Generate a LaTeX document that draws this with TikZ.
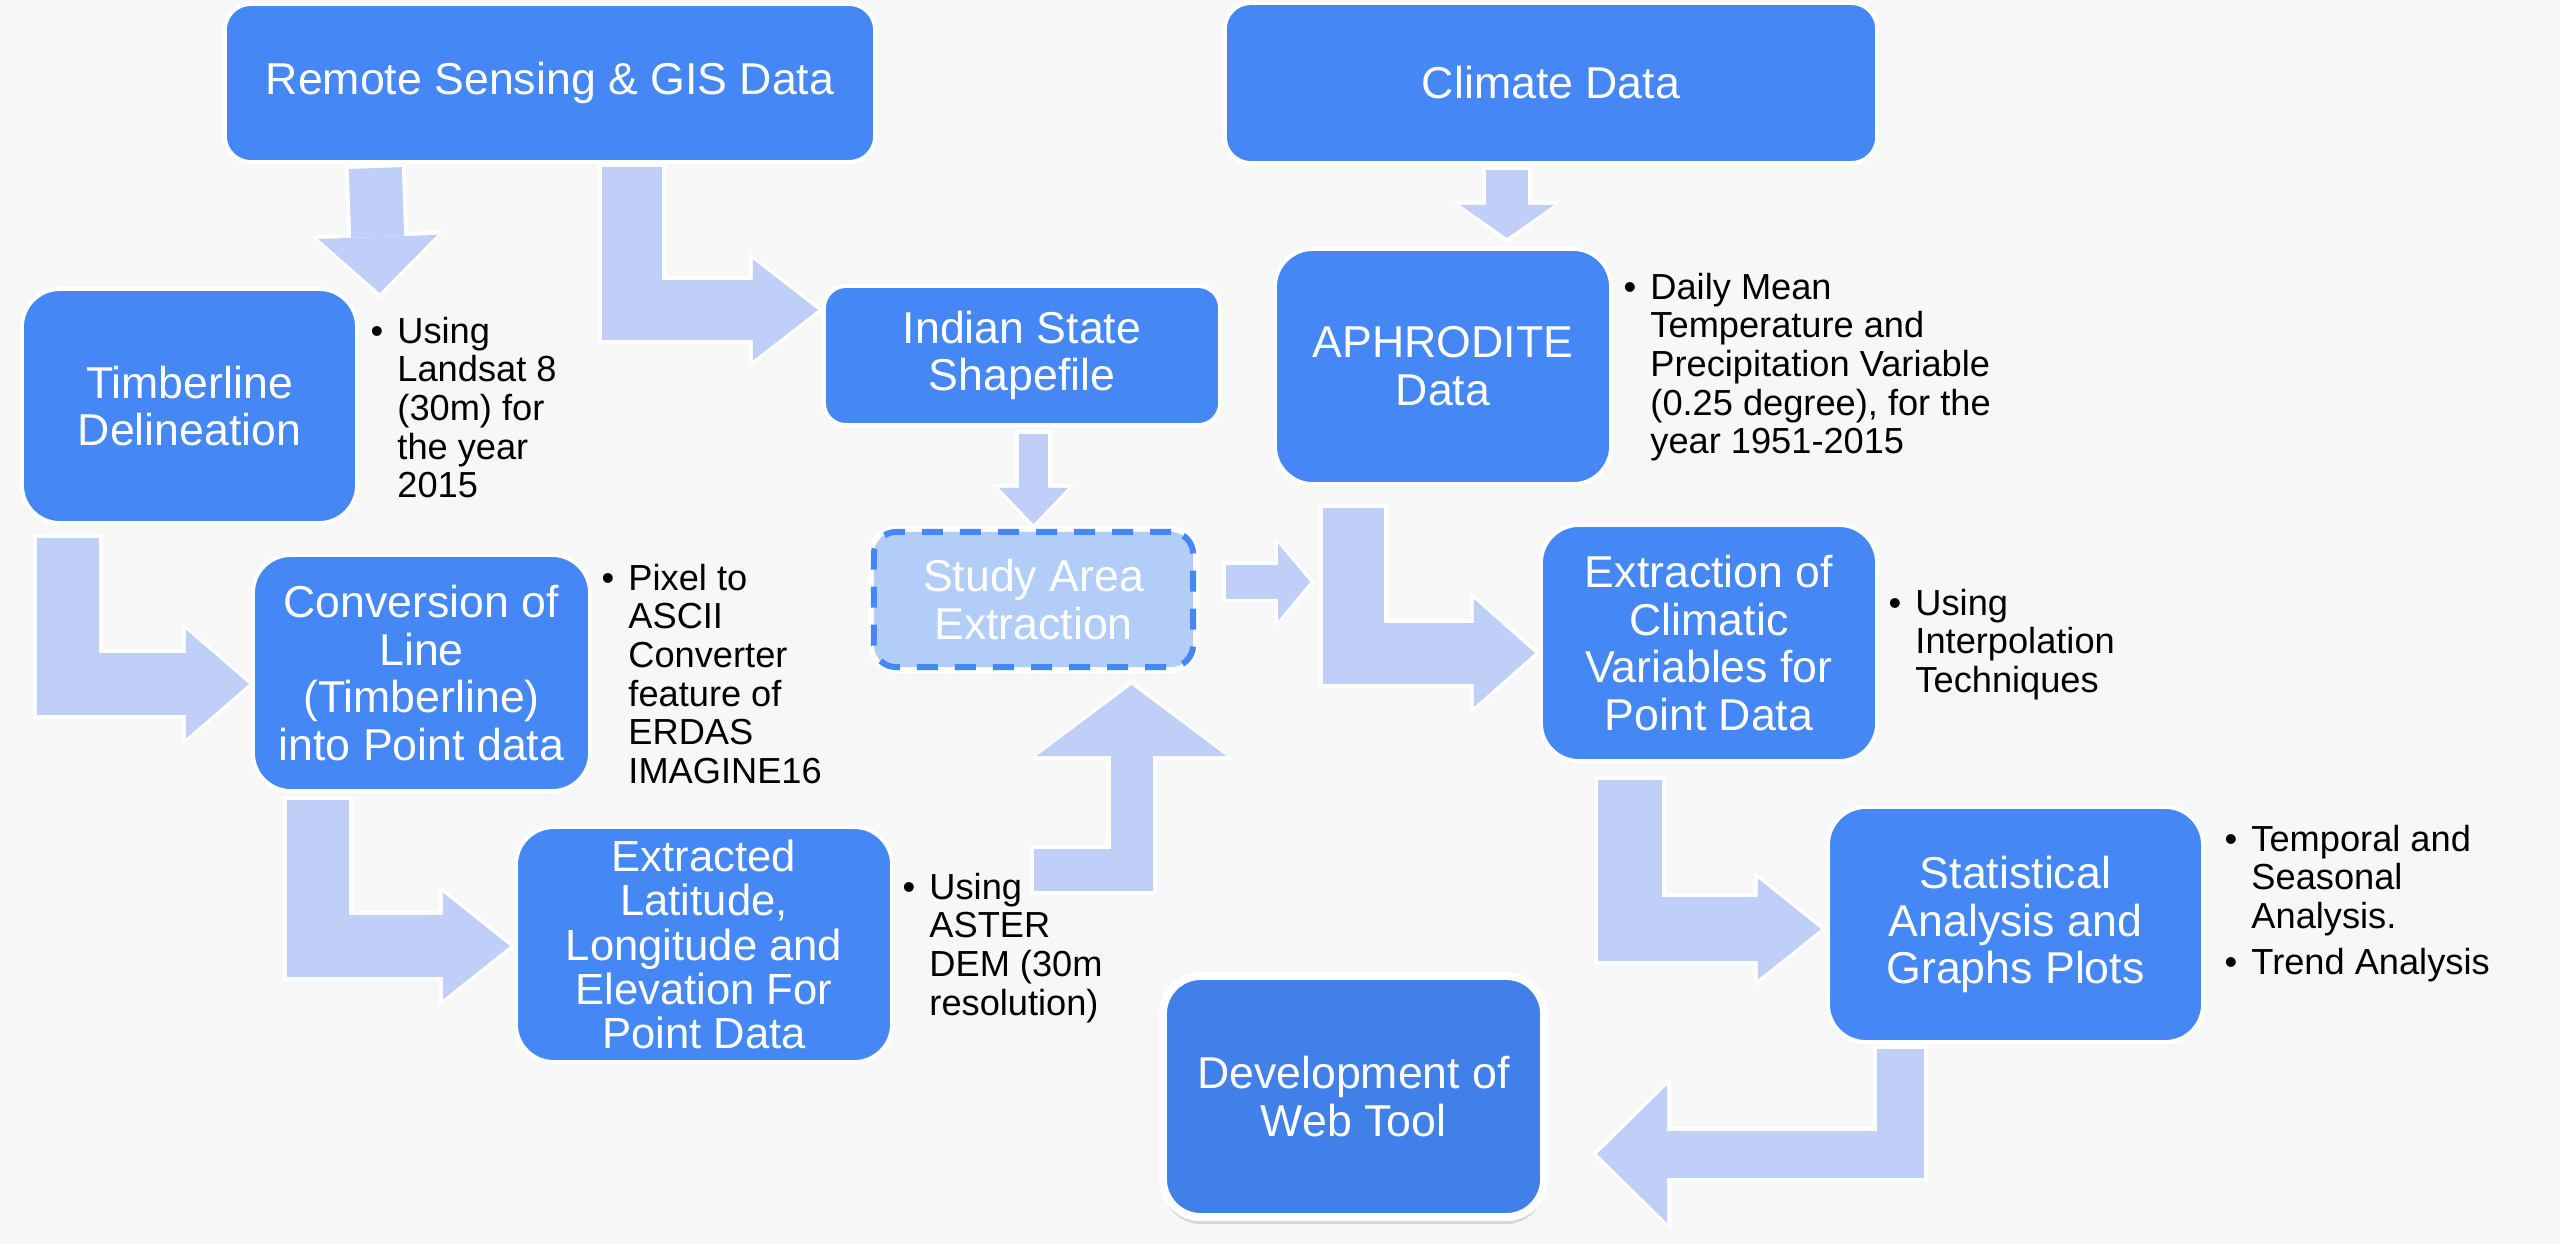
\documentclass[tikz,border=0pt]{standalone}
\usepackage{fontspec}
\setmainfont{Liberation Sans}
\usetikzlibrary{arrows.meta,calc,shadows}

\definecolor{pagebg}{RGB}{247,247,247}
\definecolor{stageblue}{RGB}{68,135,245}
\definecolor{flowblue}{RGB}{192,207,248}
\definecolor{studyblue}{RGB}{178,205,248}
\definecolor{webblue}{RGB}{64,128,232}

\newcommand\blockarrow[4]{
	\pgfmathsetmacro\rimshaft{#1+0.08}
	\pgfmathsetmacro\rimwidth{#2+0.14}
	\pgfmathsetmacro\rimlength{#3+0.1}
	\draw [white, line width=\rimshaft cm, shorten <=-0.04cm, shorten >=-0.06cm, -{Triangle[width=\rimwidth cm, length=\rimlength cm, line width=0pt]}] #4;
	\draw [flowblue, line width=#1cm, -{Triangle[width=#2cm, length=#3cm, line width=0pt]}] #4;
}

\tikzset{
	stage/.style={rectangle, rounded corners=0.38cm, fill=stageblue, draw=white, line width=0.04cm, text=white, align=center, inner sep=0pt, font=\fontsize{12.7}{13.6}\selectfont},
	study/.style={stage, rounded corners=0.22cm, fill=studyblue, draw=stageblue, line width=0.06cm, dash pattern=on 0.21cm off 0.17cm, preaction={draw=white, solid, line width=0.12cm}},
	note/.style={anchor=base west, inner sep=0pt, font=\fontsize{10.3}{11}\selectfont},
}

\begin{document}
\begin{tikzpicture}[x=0.01cm, y=-0.01cm]
	\fill [pagebg] (0,0) rectangle (2560,1244);

	\node (rs) [stage, rounded corners=0.26cm, minimum width=6.5cm, minimum height=1.58cm] at (550,83) {Remote Sensing \& GIS Data};
	\node (cd) [stage, rounded corners=0.26cm, minimum width=6.52cm, minimum height=1.6cm] at (1551,83) {Climate Data};
	\node (tl) [stage, minimum width=3.35cm, minimum height=2.34cm] at (189.5,406) {Timberline\\Delineation};
	\node (isf) [stage, rounded corners=0.22cm, minimum width=3.96cm, minimum height=1.39cm] at (1022,355.5) {Indian State\\Shapefile};
	\node (aph) [stage, minimum width=3.36cm, minimum height=2.35cm] at (1443,366.5) {APHRODITE\\Data};
	\node (cl) [stage, minimum width=3.37cm, minimum height=2.36cm] at (421.5,673) {Conversion of\\Line\\(Timberline)\\into Point data};
	\node (sa) [study, minimum width=3.19cm, minimum height=1.35cm] at (1033.5,599.5) {Study Area\\Extraction};
	\node (ecv) [stage, minimum width=3.36cm, minimum height=2.36cm] at (1709,643) {Extraction of\\Climatic\\Variables for\\Point Data};
	\node (ell) [stage, minimum width=3.76cm, minimum height=2.35cm, font=\fontsize{12.4}{12.6}\selectfont] at (704,944.5) {Extracted\\Latitude,\\Longitude and\\Elevation For\\Point Data};
	\node (sap) [stage, minimum width=3.75cm, minimum height=2.35cm] at (2015.5,924.5) {Statistical\\Analysis and\\Graphs Plots};
	\node (wt) [stage, fill=webblue, line width=0.08cm, drop shadow={shadow xshift=0cm, shadow yshift=-0.07cm, opacity=0.22, fill=black!60}, minimum width=3.81cm, minimum height=2.41cm] at (1353.5,1096.5) {Development of\\Web Tool};

	\node (tlnote) [note] at (370,343) {\begin{tabular}[t]{@{}l@{\hspace{4pt}}l@{}}
		\textbullet & Using \\
		& Landsat 8 \\
		& (30m) for \\
		& the year \\
		& 2015 \\
	\end{tabular}};
	\node (clnote) [note] at (601,590) {\begin{tabular}[t]{@{}l@{\hspace{4pt}}l@{}}
		\textbullet & Pixel to \\
		& ASCII \\
		& Converter \\
		& feature of \\
		& ERDAS \\
		& IMAGINE16 \\
	\end{tabular}};
	\node (ellnote) [note] at (902,899) {\begin{tabular}[t]{@{}l@{\hspace{4pt}}l@{}}
		\textbullet & Using \\
		& ASTER \\
		& DEM (30m \\
		& resolution) \\
	\end{tabular}};
	\node (aphnote) [note] at (1623,299) {\begin{tabular}[t]{@{}l@{\hspace{4pt}}l@{}}
		\textbullet & Daily Mean \\
		& Temperature and \\
		& Precipitation Variable \\
		& (0.25 degree), for the \\
		& year 1951-2015 \\
	\end{tabular}};
	\node (ecvnote) [note] at (1888,615) {\begin{tabular}[t]{@{}l@{\hspace{4pt}}l@{}}
		\textbullet & Using \\
		& Interpolation \\
		& Techniques \\
	\end{tabular}};
	\node (sapnote) [note] at (2224,851) {\begin{tabular}[t]{@{}l@{\hspace{4pt}}l@{}}
		\textbullet & Temporal and \\
		& Seasonal \\
		& Analysis. \\ [2pt]
		\textbullet & Trend Analysis \\
	\end{tabular}};

	\blockarrow{0.53}{1.19}{0.56}{($(rs.south west)+(152.5,4)$) -- ($(tl.north east)+(20.5,6)$)}
	\blockarrow{0.60}{1.01}{0.65}{($(rs.south west)+(409.5,3)$) |- ($(isf.north west)+(-4,26)$)}
	\blockarrow{0.29}{0.69}{0.36}{($(isf.south -| sa.north)+(0,7)$) -- ($(sa.north)+(0,-5)$)}
	\blockarrow{0.42}{0.94}{0.33}{($(cd.south)+(-44,5)$) -- ($(aph.north)+(64,-9)$)}
	\blockarrow{0.62}{1.09}{0.63}{($(tl.south west)+(48.5,13)$) |- ($(cl.west)+(-2,11)$)}
	\blockarrow{0.62}{1.07}{0.67}{($(cl.south west)+(67,7)$) |- ($(ell.west)+(-4,1.5)$)}
	\blockarrow{0.34}{0.77}{0.32}{($(sa.east)+(30,-17.5)$) -- ++(84,0)}
	\blockarrow{0.61}{1.08}{0.61}{($(aph.south west)+(81,22)$) |- ($(ecv.west)+(-4,10)$)}
	\blockarrow{0.42}{1.90}{0.71}{($(ell.north east)+(140,45.5)$) -| ($(sa.south)+(98,15)$)}
	\blockarrow{0.64}{1.01}{0.63}{($(ecv.south west)+(91.5,17)$) |- ($(sap.west)+(-5,4.5)$)}
	\blockarrow{0.47}{1.38}{0.70}{($(sap.south west)+(74.5,5)$) |- ($(wt.east)+(49,57.5)$)}
\end{tikzpicture}
\end{document}
